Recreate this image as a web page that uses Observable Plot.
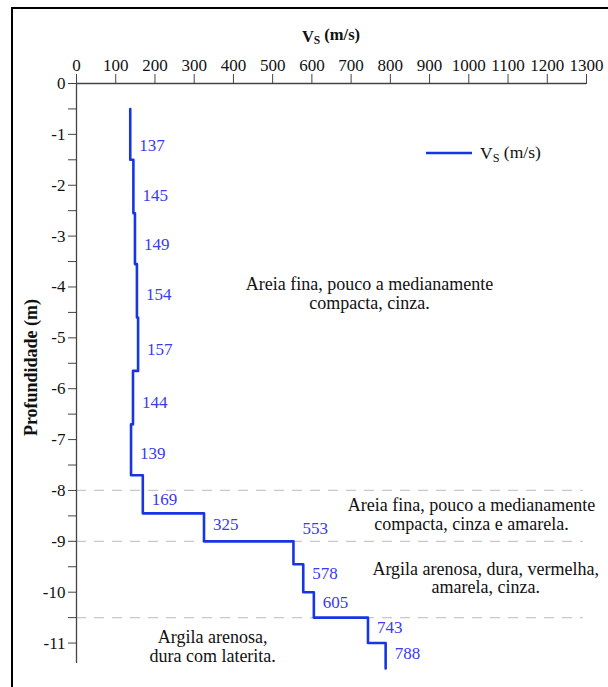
<!DOCTYPE html>
<html><head><meta charset="utf-8">
<script src="https://cdn.jsdelivr.net/npm/d3@7"></script>
<script src="https://cdn.jsdelivr.net/npm/@observablehq/plot@0.6"></script>
<style>
body{margin:0;background:#fff;}
#wrap{position:relative;width:608px;height:687px;overflow:hidden;}
#frame{position:absolute;left:11px;top:7px;width:700px;height:800px;border-top:2px solid #000;border-left:2px solid #000;box-sizing:border-box;pointer-events:none;}
#wrap svg{position:absolute;left:0;top:0;}
#wrap svg text{font-family:'Liberation Serif','Times New Roman',serif !important;font-variant-numeric:normal !important;}
</style></head><body><div id="wrap"><div id="frame"></div></div>
<script>
// ---- data ----
const vs = [137, 145, 149, 154, 157, 144, 139, 169, 325, 553, 578, 605, 743, 788];
const layerTop = [0.5, 1.5, 2.55, 3.55, 4.6, 5.65, 6.7, 7.7, 8.45, 9.0, 9.45, 10.0, 10.5, 11.0];
const layerBottom = [1.5, 2.55, 3.55, 4.6, 5.65, 6.7, 7.7, 8.45, 9.0, 9.45, 10.0, 10.5, 11.0, 11.5];
const labelDepth = [1.22, 2.2, 3.16, 4.15, 5.23, 6.27, 7.27, 8.18, 8.67, 8.75, 9.63, 10.2, 10.69, 11.2];
const boundaries = [8, 9, 10.5];
const xTicks = [0,100,200,300,400,500,600,700,800,900,1000,1100,1200,1300];
const yTicks = [0,-1,-2,-3,-4,-5,-6,-7,-8,-9,-10,-11];
const yMinor = [-0.5,-1.5,-2.5,-3.5,-4.5,-5.5,-6.5,-7.5,-8.5,-9.5,-10.5];
const soilText = ["Areia fina, pouco a medianamente\ncompacta, cinza.",
                  "Areia fina, pouco a medianamente\ncompacta, cinza e amarela.",
                  "Argila arenosa, dura, vermelha,\namarela, cinza.",
                  "Argila arenosa,\ndura com laterita."];
const soilX = [747, 1007, 1043, 347];
const soilDepth = [4.12, 8.47, 9.72, 11.07];

const FONT = "'Liberation Serif','Times New Roman',serif";
const BLUE = "#1736e2";
const LBLUE = "#3a3af0";

const stepPts = vs.flatMap((v, i) => [{x: v, y: -layerTop[i]}, {x: v, y: -layerBottom[i]}]);
const labels = vs.map((v, i) => ({v, y: -labelDepth[i]}));
const soils = soilText.map((t, i) => ({t, x: soilX[i], y: -soilDepth[i]}));

const plot = Plot.plot({
  width: 608, height: 687,
  marginLeft: 76, marginRight: 22, marginTop: 83, marginBottom: 19,
  x: {domain: [0, 1300]},
  y: {domain: [-11.5, 0]},
  style: {fontFamily: FONT, fontSize: "17px", color: "#111", background: "transparent", overflow: "visible"},
  marks: [
    Plot.ruleY(boundaries.map(d => -d), {x1: 0, x2: 1292, stroke: "#c8c8c8", strokeWidth: 1.3, strokeDasharray: "10,8"}),
    Plot.axisX({anchor: "top", ticks: xTicks, tickSize: 10, tickPadding: 3, label: null, stroke: "#444", fill: "#111", fontSize: 17, fontFamily: FONT, tickFormat: d => String(d)}),
    Plot.axisY({anchor: "left", ticks: yTicks, tickSize: 8, tickPadding: 3, label: null, stroke: "#444", fill: "#111", fontSize: 17, fontFamily: FONT, tickFormat: d => String(d)}),
    Plot.axisY({anchor: "left", ticks: yMinor, tickSize: 8, label: null, stroke: "#444", tickFormat: () => ""}),
    Plot.ruleY([0], {x1: 0, x2: 1300, stroke: "#444", strokeWidth: 1.3}),
    Plot.ruleX([0], {y1: 0, y2: -11.4, stroke: "#444", strokeWidth: 1.3}),
    Plot.line(stepPts, {x: "x", y: "y", stroke: BLUE, strokeWidth: 2.6, curve: "linear"}),
    Plot.text(labels, {x: "v", y: "y", text: d => String(d.v), textAnchor: "start", dx: 9, fill: LBLUE, fontSize: 17, fontFamily: FONT}),
    Plot.text(soils, {x: "x", y: "y", text: "t", fill: "#111", fontSize: 18, lineHeight: 1.05, fontFamily: FONT})
  ]
});

document.getElementById("wrap").appendChild(plot);
const svg = d3.select(plot);
const sx = plot.scale("x"), sy = plot.scale("y");

function vsLabel(sel) {
  sel.append("tspan").text("V");
  sel.append("tspan").attr("font-size", "70%").attr("dy", "0.22em").text("S");
  sel.append("tspan").attr("dy", "-0.22em").text(" (m/s)");
}

// title
const title = svg.append("text")
  .attr("x", sx.apply(650)).attr("y", 41.5)
  .attr("text-anchor", "middle").attr("font-family", FONT)
  .attr("font-size", 16.5).attr("font-weight", "bold").attr("fill", "#111");
vsLabel(title);

// y label
svg.append("text")
  .attr("transform", `translate(37,${(sy.apply(0) + sy.apply(-11.5)) / 2 - 8}) rotate(-90)`)
  .attr("text-anchor", "middle").attr("font-family", FONT)
  .attr("font-size", 18).attr("font-weight", "bold").attr("fill", "#111")
  .text("Profundidade (m)");

// legend
svg.append("line").attr("x1", 426).attr("x2", 472).attr("y1", 153).attr("y2", 153)
  .attr("stroke", BLUE).attr("stroke-width", 2.6);
const lg = svg.append("text").attr("x", 480).attr("y", 159)
  .attr("text-anchor", "start")
  .attr("font-family", FONT).attr("font-size", 17.5).attr("fill", "#111");
vsLabel(lg);
</script></body></html>
